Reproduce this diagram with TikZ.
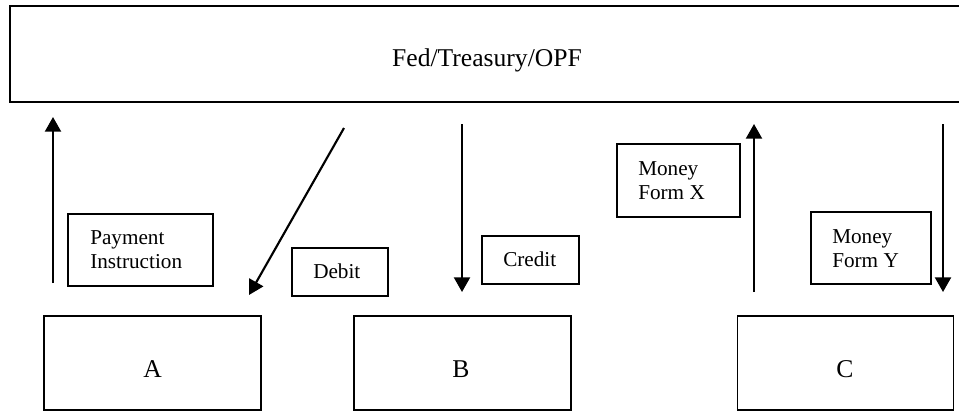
\documentclass[tikz,border=0pt]{standalone}
\usepackage{fontspec}
\setmainfont{Liberation Serif}
\usetikzlibrary{arrows.meta}
\begin{document}
\begin{tikzpicture}[x=0.75pt,y=-0.75pt,
  box/.style={draw, line width=1pt, rectangle, inner sep=0pt, outer sep=0pt},
  topbox/.style={box, line width=1.6pt},
  bigtext/.style={font=\fontsize{19.2}{23}\selectfont, inner sep=0pt},
  smalltext/.style={font=\fontsize{15.9}{17.6}\selectfont, inner sep=0pt, align=left},
  flow/.style={line width=1.6pt, -{Triangle[width=12pt,length=11pt]}}]
\useasboundingbox (0,0) rectangle (959,411);
% boxes
\node[topbox, minimum width=714.75pt, minimum height=72pt] (fed) at (486.5,54) {};
\node[box, minimum width=108.75pt, minimum height=54pt] (pay) at (140.5,250) {};
\node[box, minimum width=72pt, minimum height=36pt] (debit) at (340,272) {};
\node[box, minimum width=72.75pt, minimum height=36pt] (credit) at (530.5,260) {};
\node[box, minimum width=92.25pt, minimum height=54.75pt] (mx) at (678.5,180.5) {};
\node[box, minimum width=90pt, minimum height=54pt] (my) at (871,248) {};
\node[box, minimum width=162.75pt, minimum height=70.5pt] (A) at (152.5,363) {};
\node[box, minimum width=162.75pt, minimum height=70.5pt] (B) at (462.5,363) {};
\node[box, minimum width=162pt, minimum height=70.5pt] (C) at (845.5,363) {};
% texts
\node[bigtext, anchor=base] (fedlabel) at (487,66) {Fed/Treasury/OPF};
\node[bigtext, anchor=base] (Alabel) at (152.5,377) {A};
\node[bigtext, anchor=base] (Blabel) at (461,377) {B};
\node[bigtext, anchor=base] (Clabel) at (845,377) {C};
\node[smalltext, anchor=base west] (paylabel) at (90,268) {Payment\\Instruction};
\node[smalltext, anchor=base west] (debitlabel) at (313,278) {Debit};
\node[smalltext, anchor=base west] (creditlabel) at (503,266) {Credit};
\node[smalltext, anchor=base west] (mxlabel) at (638,199) {Money\\Form X};
\node[smalltext, anchor=base west] (mylabel) at (832,267) {Money\\Form Y};
% arrow end points
\coordinate (p1) at (53,283);  \coordinate (q1) at (53,117);
\coordinate (p2) at (344,128); \coordinate (q2) at (249,295);
\coordinate (p3) at (462,124); \coordinate (q3) at (462,292);
\coordinate (p4) at (754,292); \coordinate (q4) at (754,124);
\coordinate (p5) at (943,124); \coordinate (q5) at (943,292);
\draw[flow] (p1) -- (q1);
\draw[flow] (p2) -- (q2);
\draw[flow] (p3) -- (q3);
\draw[flow] (p4) -- (q4);
\draw[flow] (p5) -- (q5);
\end{tikzpicture}
\end{document}
